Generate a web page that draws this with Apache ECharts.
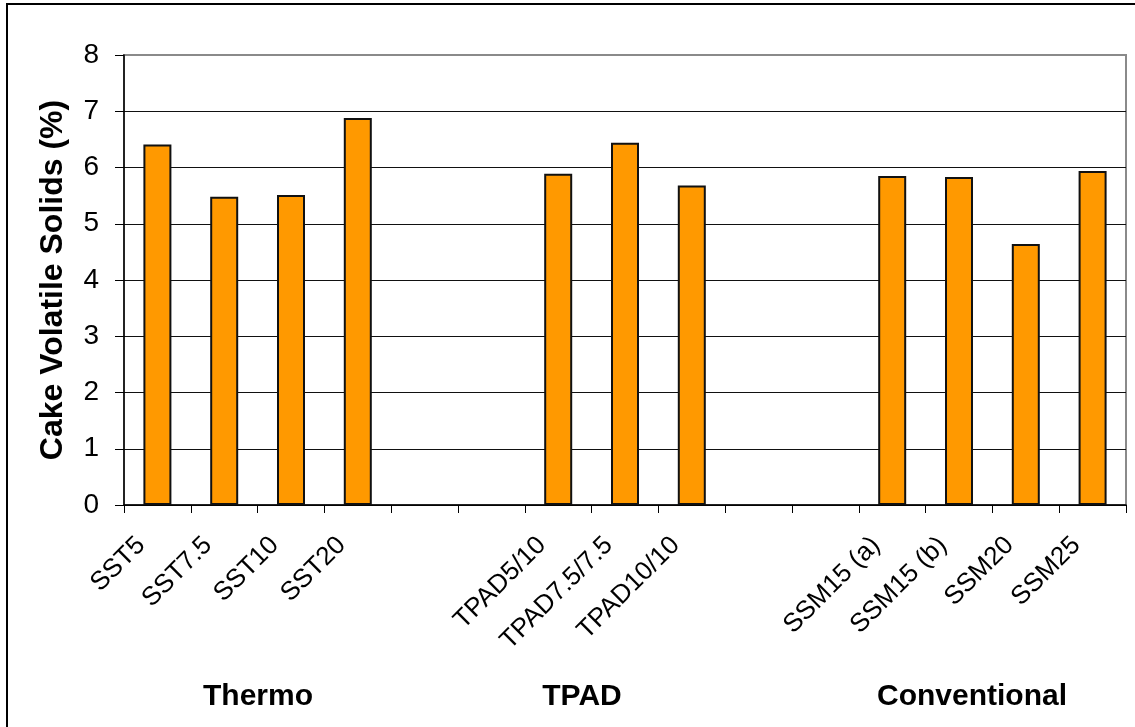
<!DOCTYPE html>
<html>
<head>
<meta charset="utf-8">
<script src="https://cdn.jsdelivr.net/npm/echarts@6/dist/echarts.min.js"></script>
<style>
  html, body { margin: 0; padding: 0; background: #fff; }
  #chart { width: 1135px; height: 727px; }
</style>
</head>
<body>
<div id="chart"></div>
<script>
// Digestion runs; empty names are spacer slots between the three groups
const categories = [
  'SST5', 'SST7.5', 'SST10', 'SST20', '', '',
  'TPAD5/10', 'TPAD7.5/7.5', 'TPAD10/10', '', '',
  'SSM15 (a)', 'SSM15 (b)', 'SSM20', 'SSM25'
];
// Cake volatile solids, %
const volatileSolids = [
  6.41, 5.48, 5.51, 6.88, null, null,
  5.89, 6.44, 5.68, null, null,
  5.85, 5.83, 4.64, 5.94
];
const yTicks = [0, 1, 2, 3, 4, 5, 6, 7, 8];
const groupNames = ['Thermo', 'TPAD', 'Conventional'];

const FONT = '"Liberation Sans", Arial, sans-serif';
const chart = echarts.init(document.getElementById('chart'), null, { renderer: 'canvas' });

// horizontal centres of the group captions under the category labels
const groupX = [258, 582, 972];

chart.setOption({
  animation: false,
  backgroundColor: '#fff',
  grid: {
    left: 124, right: 9, top: 55, bottom: 222,
    show: true, borderColor: '#8a8a8a', borderWidth: 2, backgroundColor: 'transparent'
  },
  xAxis: {
    type: 'category',
    data: categories,
    boundaryGap: true,
    axisLine: { lineStyle: { color: '#000', width: 1.5 } },
    axisTick: { show: true, interval: 0, length: 8, lineStyle: { color: '#000', width: 1 } },
    axisLabel: {
      interval: 0, rotate: 45, margin: 20, padding: [0, 23, 0, 0],
      fontFamily: FONT, fontSize: 26, color: '#000'
    }
  },
  yAxis: {
    type: 'value',
    min: yTicks[0], max: yTicks[yTicks.length - 1], interval: 1,
    name: 'Cake Volatile Solids (%)',
    nameLocation: 'middle',
    nameGap: 55,
    nameTextStyle: { fontFamily: FONT, fontSize: 32, fontWeight: 'bold', color: '#000' },
    axisLine: { show: true, lineStyle: { color: '#000', width: 1.5 } },
    axisTick: { show: true, length: 9, lineStyle: { color: '#000', width: 1 } },
    axisLabel: {
      margin: 25, fontFamily: FONT, fontSize: 28, color: '#000',
      lineHeight: 24,
      formatter: v => yTicks.includes(v) ? String(v) : ''
    },
    splitLine: { show: true, showMaxLine: false, lineStyle: { color: '#111', width: 1 } }
  },
  series: [{
    type: 'bar',
    data: volatileSolids,
    barWidth: 28,
    itemStyle: { color: '#FF9900', borderColor: '#111', borderWidth: 2 }
  }],
  graphic: [
    {
      type: 'rect', silent: true, z: 100,
      shape: { x: 7, y: 4, width: 1140, height: 740 },
      style: { fill: 'none', stroke: '#000', lineWidth: 2 }
    }
  ].concat(groupNames.map((name, i) => ({
    type: 'text', silent: true,
    x: groupX[i], y: 697,
    style: {
      text: name, fontFamily: FONT, fontSize: 30, fontWeight: 'bold', fill: '#000',
      align: 'center', verticalAlign: 'middle'
    }
  })))
});
</script>
</body>
</html>
